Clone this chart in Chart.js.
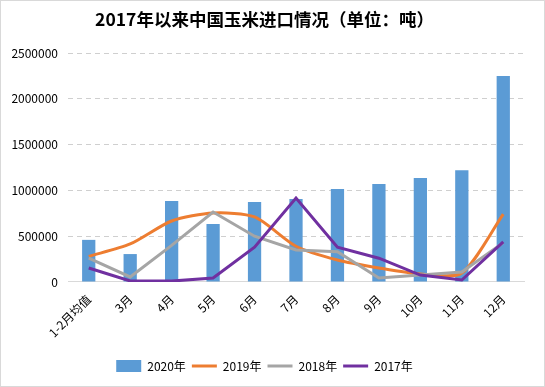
<!DOCTYPE html>
<html>
<head>
<meta charset="utf-8">
<script src="https://cdn.jsdelivr.net/npm/chart.js@4"></script>
<style>
  html, body { margin: 0; padding: 0; background: #fff; }
  .box { width: 543px; height: 385px; border: 1px solid #d9d9d9; }
</style>
</head>
<body>
<div class="box"><canvas id="myChart" width="543" height="385"></canvas></div>
<script>
// categories
const months = ["1-2月均值", "3月", "4月", "5月", "6月", "7月", "8月", "9月", "10月", "11月", "12月"];

// series (tons)
const y2020 = [460000, 305000, 885000, 633000, 873000, 906000, 1015000, 1070000, 1135000, 1220000, 2250000];
const y2019 = [280000, 415000, 666000, 753000, 710000, 390000, 240000, 153000, 87000, 98000, 742000];
const y2018 = [260000, 55000, 400000, 764000, 500000, 350000, 330000, 44000, 76000, 110000, 430000];
const y2017 = [153000, 11000, 10000, 44000, 380000, 917000, 380000, 260000, 76000, 22000, 437000];

const seriesNames = ["2020年", "2019年", "2018年", "2017年"];
const yTicks = [0, 500000, 1000000, 1500000, 2000000, 2500000];

const font = "'Noto Sans CJK SC', 'Noto Sans', sans-serif";

const data = {
  labels: months,
  datasets: [
    {
      type: "line",
      label: seriesNames[3],
      data: y2017,
      borderColor: "#7030A0",
      backgroundColor: "#7030A0",
      borderWidth: 3,
      pointRadius: 0,
      pointStyle: "line",
      tension: 0,
      order: 1
    },
    {
      type: "line",
      label: seriesNames[2],
      data: y2018,
      borderColor: "#A5A5A5",
      backgroundColor: "#A5A5A5",
      borderWidth: 3,
      pointRadius: 0,
      pointStyle: "line",
      tension: 0,
      order: 2
    },
    {
      type: "line",
      label: seriesNames[1],
      data: y2019,
      borderColor: "#ED7D31",
      backgroundColor: "#ED7D31",
      borderWidth: 3,
      pointRadius: 0,
      pointStyle: "line",
      tension: 0.25,
      order: 3
    },
    {
      type: "bar",
      label: seriesNames[0],
      data: y2020,
      backgroundColor: "#5B9BD5",
      pointStyle: "rect",
      barPercentage: 0.32,
      categoryPercentage: 1,
      order: 4
    }
  ]
};

const config = {
  type: "bar",
  data: data,
  options: {
    responsive: false,
    animation: false,
    layout: { padding: { left: 4, right: 20, top: 4, bottom: 4 } },
    plugins: {
      title: {
        display: true,
        text: "2017年以来中国玉米进口情况（单位：吨）",
        color: "#000",
        font: { family: font, size: 17.5, weight: "600" },
        padding: { top: 4, bottom: 23 }
      },
      legend: {
        position: "bottom",
        reverse: true,
        labels: {
          color: "#000",
          font: { family: font, size: 12 },
          usePointStyle: true,
          pointStyleWidth: 25,
          padding: 6
        }
      },
      tooltip: { enabled: false }
    },
    scales: {
      x: {
        grid: { display: false },
        border: { color: "#d9d9d9" },
        ticks: {
          color: "#000",
          font: { family: font, size: 12 },
          minRotation: 45,
          maxRotation: 45,
          padding: 2
        },
        afterFit: (axis) => { axis.height += 12; }
      },
      y: {
        min: 0,
        max: 2500000,
        afterBuildTicks: (axis) => { axis.ticks = yTicks.map(v => ({ value: v })); },
        border: { display: false, dash: [5, 4] },
        grid: { color: "#cfcfcf", drawTicks: false },
        ticks: {
          color: "#000",
          font: { family: font, size: 12 },
          padding: 10,
          callback: (v) => String(v)
        },
        afterFit: (axis) => { axis.width = 63; }
      }
    }
  }
};

const context = document.getElementById("myChart").getContext("2d");
const chart = new Chart(context, config);
</script>
</body>
</html>
